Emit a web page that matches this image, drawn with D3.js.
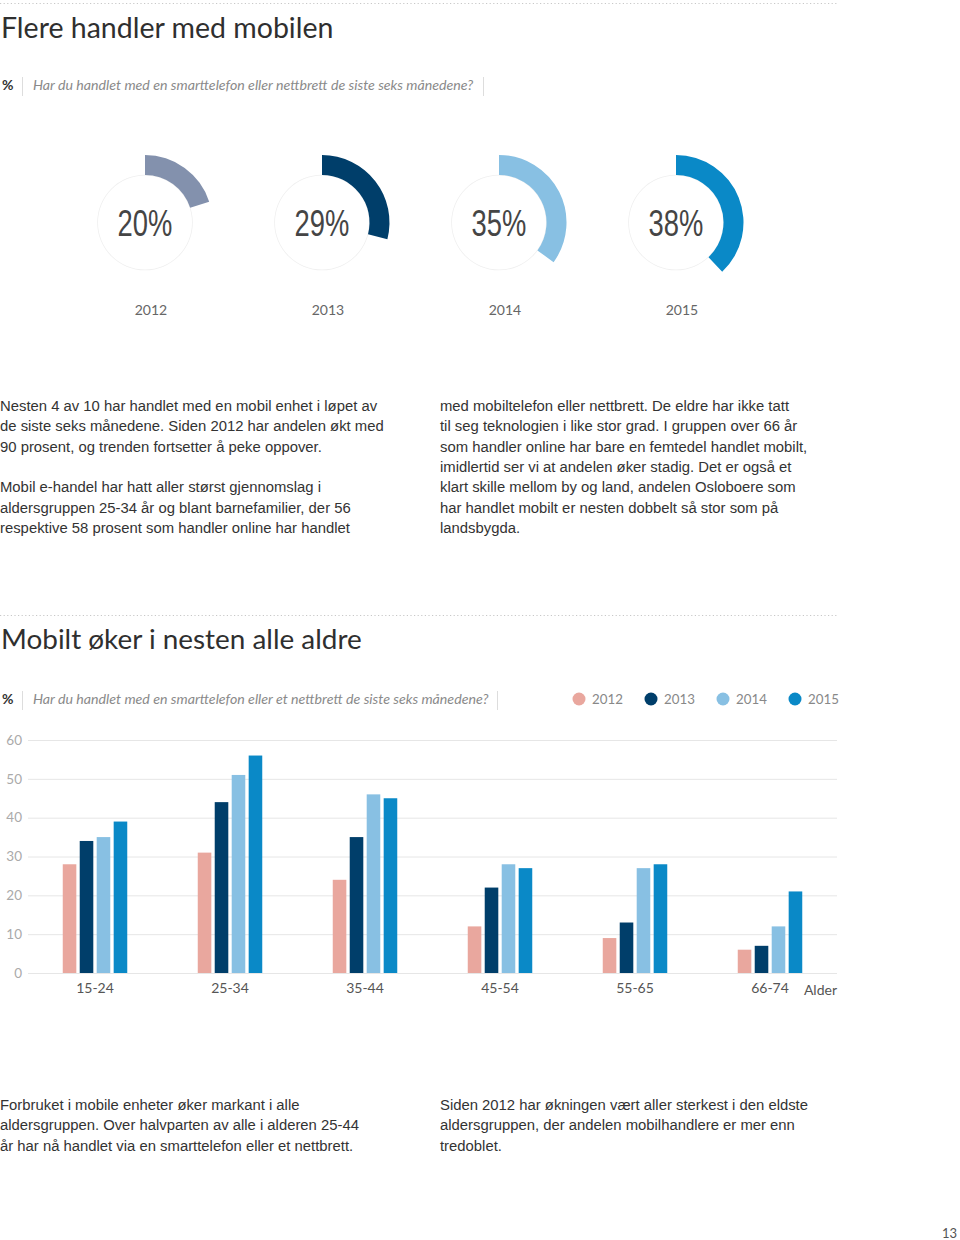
<!DOCTYPE html>
<html><head><meta charset="utf-8">
<script src="https://cdn.jsdelivr.net/npm/d3@7"></script>
<style>
html,body{margin:0;padding:0;background:#fff;}
svg{display:block;}
</style></head>
<body>
<svg id="c" width="960" height="1240"></svg>
<script>
// ---- data ----
const donutYears = ["2012","2013","2014","2015"];
const donutValues = [20, 29, 35, 38];
const donutColors = ["#8391ad","#003e6a","#88c0e3","#0a89c7"];

const ageGroups = ["15-24","25-34","35-44","45-54","55-65","66-74"];
const barYears = ["2012","2013","2014","2015"];
const v2012 = [28, 31, 24, 12, 9, 6];
const v2013 = [34, 44, 35, 22, 13, 7];
const v2014 = [35, 51, 46, 28, 27, 12];
const v2015 = [39, 56, 45, 27, 28, 21];
const barColors = ["#e9a79e","#003e6a","#88c0e3","#0a89c7"];
const yTicks = [0,10,20,30,40,50,60];

const title1 = "Flere handler med mobilen";
const sub1 = "Har du handlet med en smarttelefon eller nettbrett de siste seks månedene?";
const title2 = "Mobilt øker i nesten alle aldre";
const sub2 = "Har du handlet med en smarttelefon eller et nettbrett de siste seks månedene?";

const textLeft1 = ["Nesten 4 av 10 har handlet med en mobil enhet i løpet av","de siste seks månedene. Siden 2012 har andelen økt med","90 prosent, og trenden fortsetter å peke oppover.","","Mobil e-handel har hatt aller størst gjennomslag i","aldersgruppen 25-34 år og blant barnefamilier, der 56","respektive 58 prosent som handler online har handlet"];
const textRight1 = ["med mobiltelefon eller nettbrett. De eldre har ikke tatt","til seg teknologien i like stor grad. I gruppen over 66 år","som handler online har bare en femtedel handlet mobilt,","imidlertid ser vi at andelen øker stadig. Det er også et","klart skille mellom by og land, andelen Osloboere som","har handlet mobilt er nesten dobbelt så stor som på","landsbygda."];
const textLeft2 = ["Forbruket i mobile enheter øker markant i alle","aldersgruppen. Over halvparten av alle i alderen 25-44","år har nå handlet via en smarttelefon eller et nettbrett."];
const textRight2 = ["Siden 2012 har økningen vært aller sterkest i den eldste","aldersgruppen, der andelen mobilhandlere er mer enn","tredoblet."];

const svg = d3.select("#c");
const headFont = "Lato, 'Open Sans', sans-serif";
const bodyFont = "'Liberation Sans', Arial, sans-serif";

// ---- section header helper ----
function header(yLine, yTitle, ySub, title, titleSize, sub, sepX2) {
  svg.append("line").attr("x1",0).attr("x2",837).attr("y1",yLine).attr("y2",yLine)
    .attr("stroke","#c8c8c8").attr("stroke-width",1.2).attr("stroke-dasharray","1.2,2.4");
  svg.append("text").attr("x",1).attr("y",yTitle).text(title)
    .attr("font-family",headFont).attr("font-size",titleSize).attr("font-weight",400).attr("fill","#2f2f2f");
  svg.append("text").attr("x",2).attr("y",ySub).text("%")
    .attr("font-family",headFont).attr("font-size",14).attr("font-weight",700).attr("fill","#333");
  svg.append("line").attr("x1",22.5).attr("x2",22.5).attr("y1",ySub-13).attr("y2",ySub+6).attr("stroke","#ddd");
  svg.append("text").attr("x",33).attr("y",ySub).text(sub)
    .attr("font-family",headFont).attr("font-size",14.2).attr("font-style","italic").attr("fill","#8a8a8a");
  svg.append("line").attr("x1",sepX2).attr("x2",sepX2).attr("y1",ySub-13).attr("y2",ySub+6).attr("stroke","#ddd");
}

header(3.5, 38, 90, title1, 28.5, sub1, 483.5);

// ---- donuts ----
const xd = d3.scalePoint().domain(donutYears).range([145, 676]);
const arcBg = d3.arc().innerRadius(47).outerRadius(47.8).startAngle(0).endAngle(2*Math.PI);
const arcV = d3.arc().innerRadius(47.5).outerRadius(67.5).startAngle(0);
const ang = d3.scaleLinear().domain([0,100]).range([0, 2*Math.PI]);
donutYears.forEach((yr,i) => {
  const g = svg.append("g").attr("transform",`translate(${xd(yr)},222.5)`);
  g.append("path").attr("d",arcBg()).attr("fill","#efefef");
  g.append("path").attr("d",arcV({endAngle: ang(donutValues[i])})).attr("fill",donutColors[i]);
  g.append("text").attr("text-anchor","middle").attr("y",13).attr("transform","scale(0.74,1)")
    .text(donutValues[i]+"%")
    .attr("font-family","'Liberation Sans',Arial,sans-serif")
    .attr("font-size",37).attr("fill","#454545");
  svg.append("text").attr("x",xd(yr)+6).attr("y",315).attr("text-anchor","middle").text(yr)
    .attr("font-family",headFont).attr("font-size",14).attr("fill","#666");
});

// ---- body text helper ----
function para(lines, x, y0) {
  const t = svg.append("text").attr("font-family",bodyFont).attr("font-size",14.85).attr("fill","#333");
  lines.forEach((l,i) => t.append("tspan").attr("x",x).attr("y",y0 + i*20.3).text(l));
}
para(textLeft1, 0, 411);
para(textRight1, 440, 411);

// ---- section 2 ----
header(615.5, 649, 704, title2, 27.9, sub2, 497.5);

// legend
const xl = d3.scalePoint().domain(barYears).range([579, 795]);
barYears.forEach((yr,i) => {
  svg.append("circle").attr("cx",xl(yr)).attr("cy",699).attr("r",6.5).attr("fill",barColors[i]);
  svg.append("text").attr("x",xl(yr)+13).attr("y",704).text(yr)
    .attr("font-family",headFont).attr("font-size",13.3).attr("fill","#888");
});

// bar chart
const y = d3.scaleLinear().domain([0,60]).range([973, 740]);
const x0 = d3.scaleBand().domain(ageGroups).range([27.5, 837.5]).padding(0);
const x1 = d3.scaleBand().domain(barYears).range([0, 64.5]).paddingInner(0.2).paddingOuter(0);
const series = [v2012, v2013, v2014, v2015];

const yAxis = svg.append("g").attr("transform","translate(28,0)")
  .call(d3.axisLeft(y).tickValues(yTicks).tickSize(-809).tickPadding(6).tickFormat(d3.format("d")));
yAxis.select(".domain").remove();
yAxis.selectAll(".tick line").attr("stroke","#e6e6e6");
yAxis.selectAll(".tick text").attr("font-family",headFont).attr("font-size",13.5).attr("fill","#aaa");

const gBars = svg.append("g");
ageGroups.forEach((a,ai) => {
  const gx = x0(a) + x0.bandwidth()/2 - 32.25;
  barYears.forEach((yr,si) => {
    gBars.append("rect").attr("x", gx + x1(yr)).attr("width", x1.bandwidth())
      .attr("y", y(series[si][ai])).attr("height", y(0) - y(series[si][ai]))
      .attr("fill", barColors[si]);
  });
});

const xAxis = svg.append("g").attr("transform","translate(0,973)")
  .call(d3.axisBottom(x0).tickSize(0).tickPadding(10));
xAxis.select(".domain").remove();
xAxis.selectAll(".tick text").attr("font-family",headFont).attr("font-size",14).attr("fill","#555");
svg.append("text").attr("x",837).attr("y",995).attr("text-anchor","end").text("Alder")
  .attr("font-family",headFont).attr("font-size",14).attr("fill","#555");

para(textLeft2, 0, 1110);
para(textRight2, 440, 1110);

svg.append("text").attr("x",957).attr("y",1238).attr("text-anchor","end").text("13")
  .attr("font-family",headFont).attr("font-size",13).attr("fill","#555");
</script>
</body></html>
